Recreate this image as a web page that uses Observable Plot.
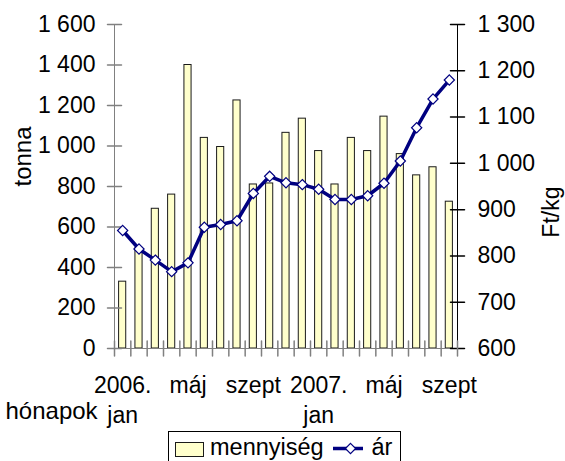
<!DOCTYPE html>
<html>
<head>
<meta charset="utf-8">
<script src="https://cdn.jsdelivr.net/npm/d3@7"></script>
<script src="https://cdn.jsdelivr.net/npm/@observablehq/plot@0.6"></script>
<style>
  html, body { margin: 0; padding: 0; background: #fff; }
  #wrap { position: relative; width: 565px; height: 461px; overflow: hidden; font-family: "Liberation Sans", Arial, sans-serif; }
  #legend { position: absolute; left: 168px; top: 431px; width: 233px; height: 40px; box-sizing: border-box; border: 1px solid #000; background: #fff; }
</style>
</head>
<body>
<div id="wrap"><div id="legend"></div></div>
<script>
// ---- data ----
const months = ["2006. jan","febr","márc","ápr","máj","jún","júl","aug","szept","okt","nov","dec",
                "2007. jan","febr","márc","ápr","máj","jún","júl","aug","szept"];
const mennyiseg = [330,495,690,760,1400,1040,995,1225,810,815,1065,1135,975,810,1040,975,1145,960,855,895,725];
const ar = [855,815,791,766,785,862,868,876,935,972,958,954,944,922,922,930,957,1005,1077,1139,1180];
const leftTicks = [0,200,400,600,800,1000,1200,1400,1600];
const rightTicks = [600,700,800,900,1000,1100,1200,1300];
const labelledMonths = [0,4,8,12,16,20];
const seriesNames = ["mennyiség","ár"];

// ---- helpers ----
const font = "Liberation Sans, Arial, sans-serif";
const fmt = v => d3.format(",")(v).replace(/,/g, " ");
const pMin = 600, pMax = 1300, tMax = 1600;
const toY = p => (p - pMin) * tMax / (pMax - pMin);
const data = months.map((m, i) => ({i, m, t: mennyiseg[i], p: ar[i]}));
const lineShape = {draw(ctx, l) { ctx.moveTo(0, 0); ctx.lineTo(0, -l); }};
const navy = "#000080", grey = "#808080";

const chart = Plot.plot({
  width: 565, height: 461,
  marginLeft: 114, marginRight: 108, marginTop: 24, marginBottom: 113,
  style: {fontFamily: font, background: "#fff", overflow: "visible"},
  x: {type: "linear", domain: [0, months.length], axis: null},
  y: {domain: [0, tMax], axis: null},
  marks: [
    Plot.rectY(data, {x1: "i", x2: d => d.i + 1, y: "t", insetLeft: 4.6, insetRight: 4.6,
      fill: "#FFFFCC", stroke: "#1a1a1a", strokeWidth: 1}),
    // axis lines
    Plot.ruleY([0], {stroke: grey, strokeWidth: 1}),
    Plot.ruleX([0], {stroke: grey, strokeWidth: 1}),
    Plot.ruleX([months.length], {stroke: "#000", strokeWidth: 1}),
    // crossing ticks
    Plot.vector(leftTicks, {x: 0, y: d => d, length: 14, rotate: 90, anchor: "middle", shape: lineShape, stroke: grey, fill: "none"}),
    Plot.vector(rightTicks, {x: months.length, y: d => toY(d), length: 14, rotate: 90, anchor: "middle", shape: lineShape, stroke: "#000", fill: "none"}),
    Plot.vector(d3.range(months.length + 1), {x: d => d, y: 0, length: 15, rotate: 0, anchor: "middle", shape: lineShape, stroke: grey, fill: "none"}),
    // tick labels
    Plot.text(leftTicks, {x: 0, y: d => d, text: d => fmt(d), textAnchor: "end", dx: -19, fontSize: 23, fill: "#000"}),
    Plot.text(rightTicks, {x: months.length, y: d => toY(d), text: d => fmt(d), textAnchor: "start", dx: 20, fontSize: 23, fill: "#000"}),
    Plot.text(labelledMonths, {x: d => d + 0.5, y: 0, text: d => months[d].replace(". ", ".\n"),
      lineAnchor: "top", dy: 24, lineHeight: 1.28, fontSize: 23, fill: "#000"}),
    // axis titles
    Plot.text(["hónapok"], {frameAnchor: "bottom-left", text: d => d, textAnchor: "start", lineAnchor: "top", dx: -109, dy: 53, fontSize: 24, fill: "#000"}),
    Plot.text(["tonna"], {frameAnchor: "left", text: d => d, rotate: -90, dx: -91, fontSize: 24, fill: "#000"}),
    Plot.text(["Ft/kg"], {frameAnchor: "right", text: d => d, rotate: -90, dx: 94, fontSize: 23, fill: "#000"}),
    // price line
    Plot.line(data, {x: d => d.i + 0.5, y: d => toY(d.p), stroke: navy, strokeWidth: 3.5}),
    Plot.dot(data, {x: d => d.i + 0.5, y: d => toY(d.p), symbol: "diamond2", r: 4.6, fill: "#fff", stroke: navy, strokeWidth: 1.2})
  ]
});
document.getElementById("wrap").insertBefore(chart, document.getElementById("legend"));

// ---- legend ----
const lg = d3.select("#legend").append("svg").attr("width", 231).attr("height", 38)
  .style("font-family", font).style("display", "block");
lg.append("rect").attr("x", 6.5).attr("y", 10.5).attr("width", 28).attr("height", 14)
  .attr("fill", "#FFFFCC").attr("stroke", "#1a1a1a");
lg.append("text").attr("x", 41).attr("y", 23).attr("font-size", 23.5).text(seriesNames[0]);
lg.append("line").attr("x1", 164).attr("x2", 194).attr("y1", 16.5).attr("y2", 16.5)
  .attr("stroke", navy).attr("stroke-width", 3.5);
lg.append("path").attr("transform", "translate(181.5,16.5)")
  .attr("d", d3.symbol(d3.symbolDiamond2, Math.PI * 4.6 * 4.6)())
  .attr("fill", "#fff").attr("stroke", navy).attr("stroke-width", 1.2);
lg.append("text").attr("x", 202.5).attr("y", 23).attr("font-size", 23.5).text(seriesNames[1]);
</script>
</body>
</html>
